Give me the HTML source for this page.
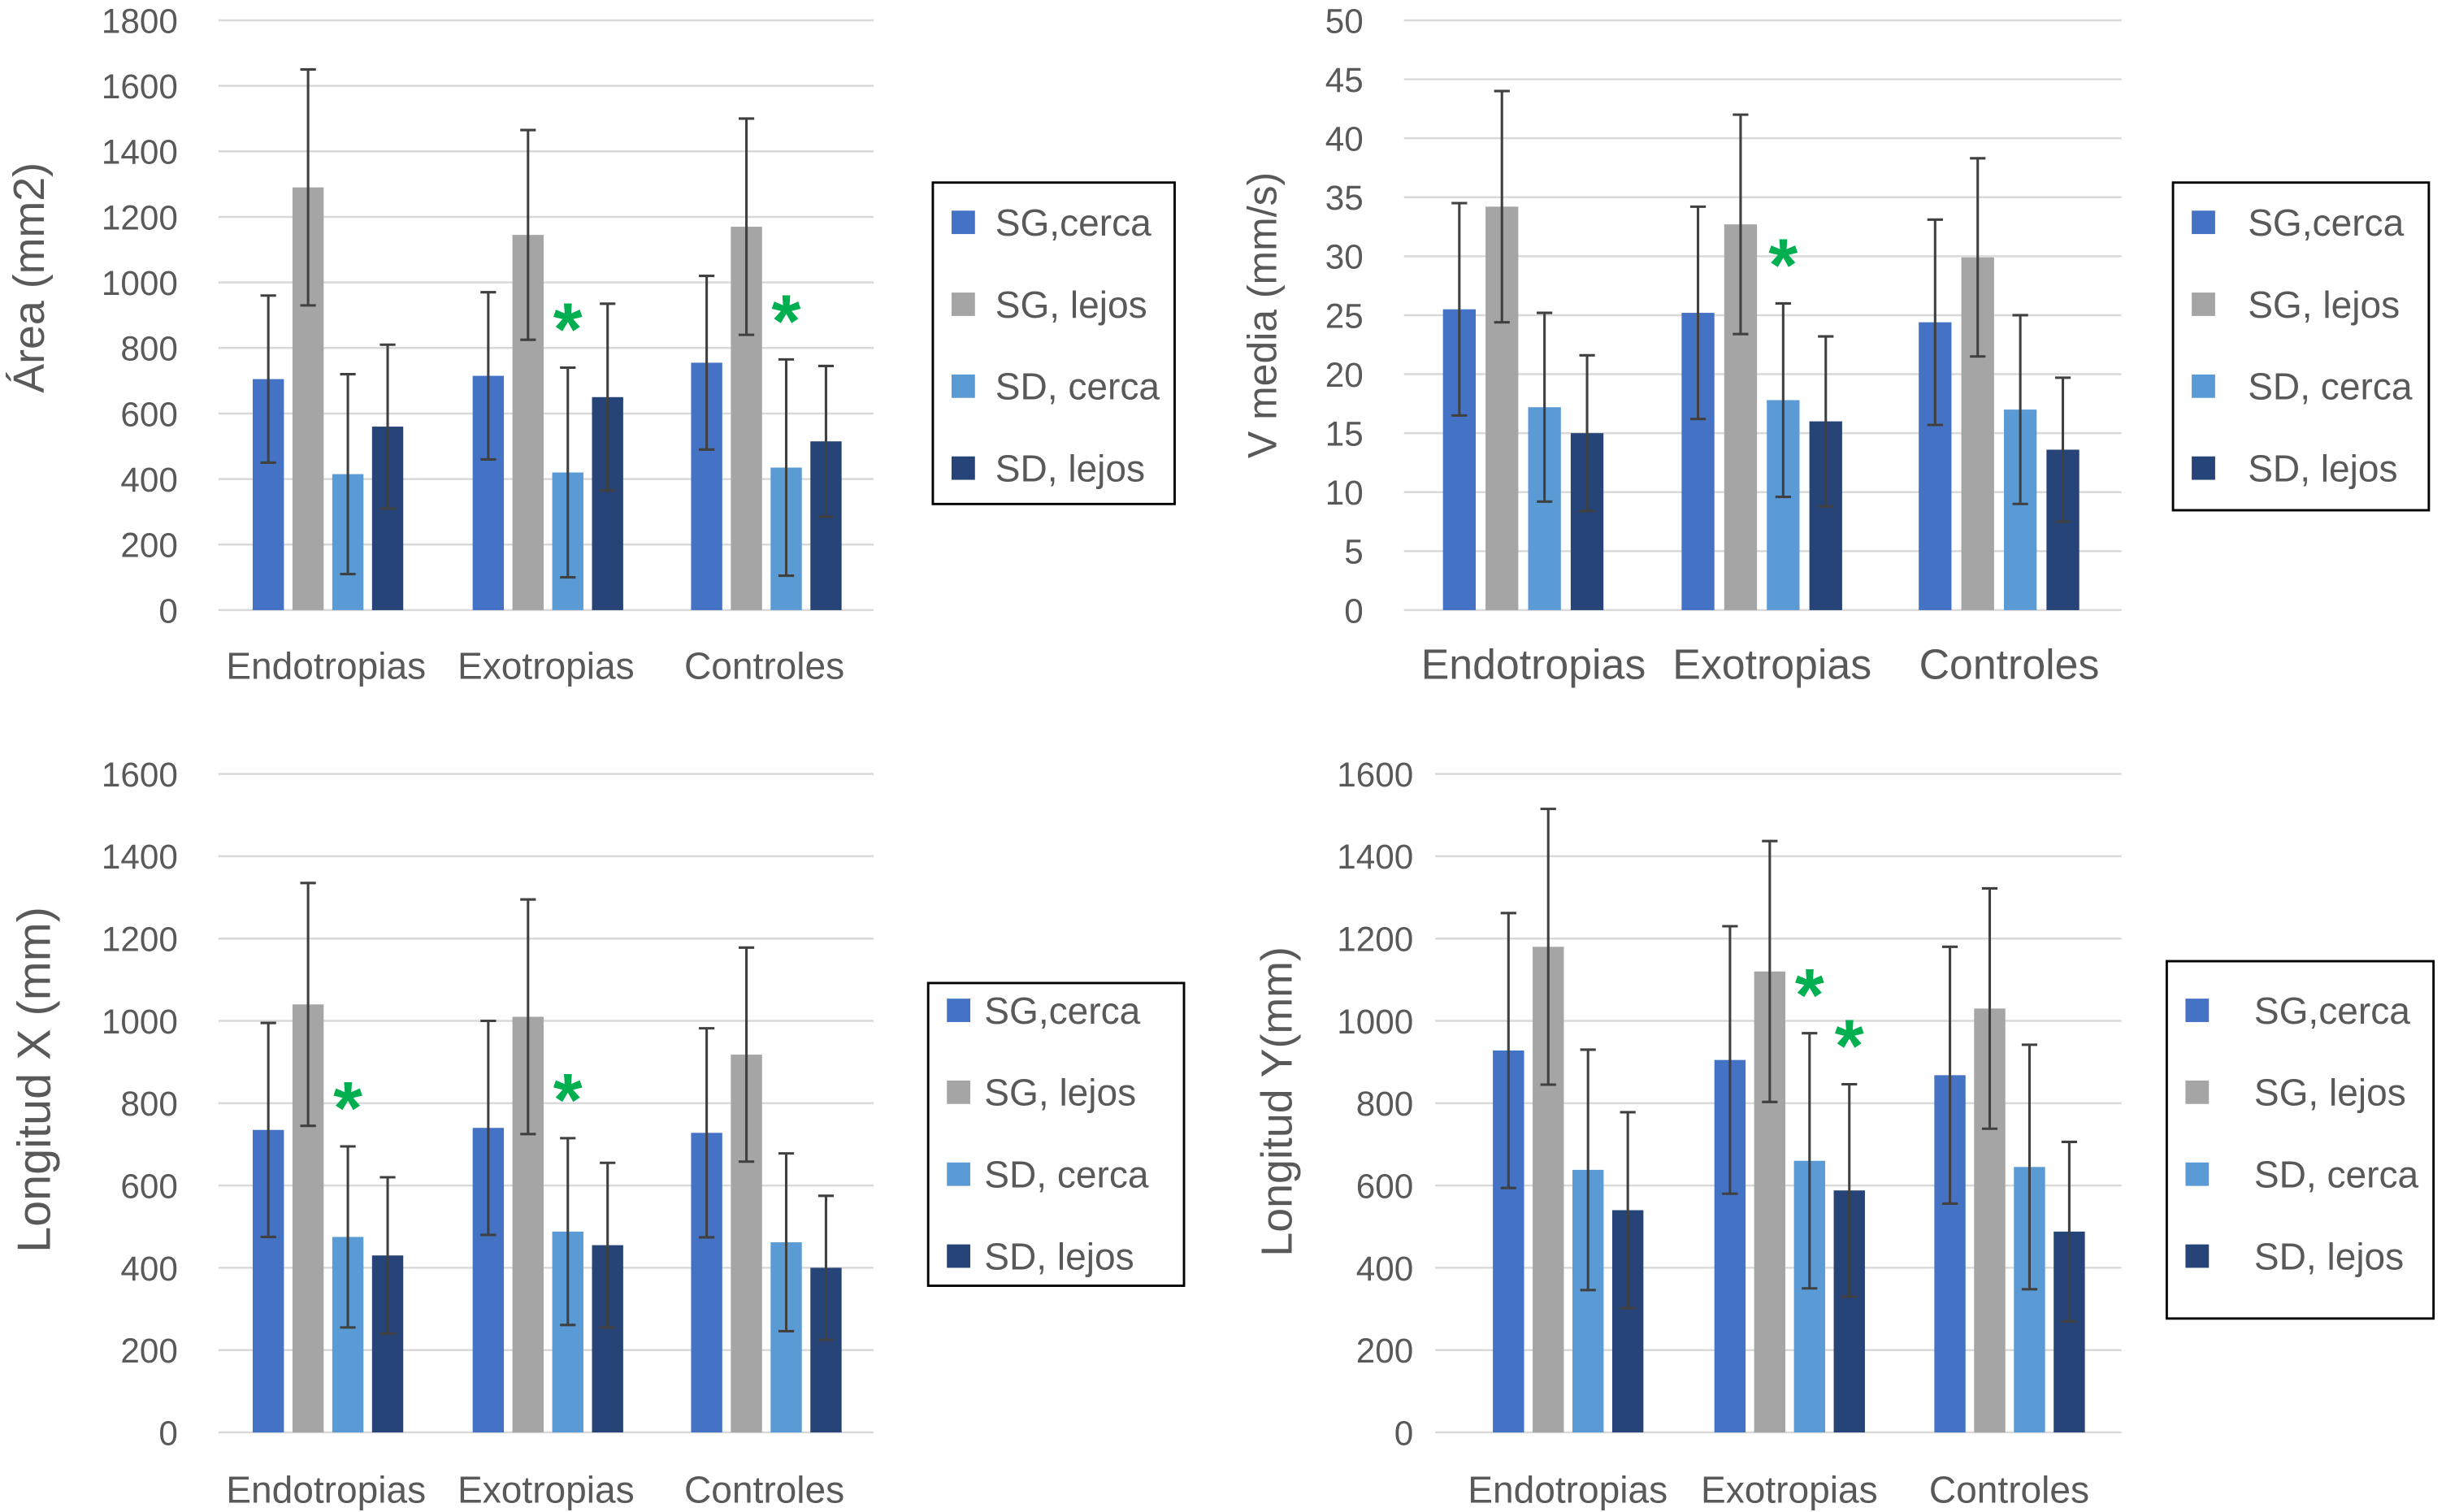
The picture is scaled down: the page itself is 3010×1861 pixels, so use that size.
<!DOCTYPE html>
<html><head><meta charset="utf-8">
<style>
html,body{margin:0;padding:0;background:#fff;}
svg{display:block;font-family:"Liberation Sans",sans-serif;}
</style></head>
<body>
<svg id="fig" width="3010" height="1861" viewBox="0 0 1568 969" preserveAspectRatio="none" xmlns="http://www.w3.org/2000/svg"></svg>
<script>
const categories = ["Endotropias","Exotropias","Controles"];
const seriesNames = ["SG,cerca","SG, lejos","SD, cerca","SD, lejos"];
const colors = ["#4472C4","#A5A5A5","#5B9BD5","#264478"];

const areaValues = [[705,715,755],[1290,1145,1170],[415,420,435],[560,650,515]];
const areaErrors = [[255,255,265],[360,320,330],[305,320,330],[250,285,230]];
const areaTicks = [0,200,400,600,800,1000,1200,1400,1600,1800];
const areaStars = [[1,2],[2,2]];

const vmValues = [[25.5,25.2,24.4],[34.2,32.7,29.9],[17.2,17.8,17.0],[15.0,16.0,13.6]];
const vmErrors = [[9,9,8.7],[9.8,9.3,8.4],[8,8.2,8],[6.6,7.2,6.1]];
const vmTicks = [0,5,10,15,20,25,30,35,40,45,50];
const vmStars = [[1,2]];

const lxValues = [[735,740,728],[1040,1010,918],[475,488,462],[430,455,400]];
const lxErrors = [[260,260,254],[295,285,260],[220,227,216],[190,200,175]];
const lxTicks = [0,200,400,600,800,1000,1200,1400,1600];
const lxStars = [[0,2],[1,2]];

const lyValues = [[928,905,868],[1180,1120,1030],[638,660,645],[540,588,488]];
const lyErrors = [[334,325,312],[335,317,292],[292,310,297],[238,258,218]];
const lyTicks = [0,200,400,600,800,1000,1200,1400,1600];
const lyStars = [[1,2],[1,3]];

const NS="http://www.w3.org/2000/svg";
const svg=document.getElementById('fig');
function el(tag,attrs,parent){const e=document.createElementNS(NS,tag);for(const k in attrs)e.setAttribute(k,attrs[k]);(parent||svg).appendChild(e);return e;}

function drawChart(cfg){
  const g=el('g',{});
  
  
  const max=cfg.ticks[cfg.ticks.length-1];
  const y=v=>cfg.y0-(v/max)*(cfg.y0-cfg.yTop);
  cfg.ticks.forEach(t=>{
    const l=el('line',{x1:cfg.gx0,x2:cfg.gx1,y1:y(t),y2:y(t),stroke:'#d9d9d9','stroke-width':1.3},g);
    
    
    const tx=el('text',{x:cfg.tickX,y:y(t)+8,'text-anchor':'end','font-size':22,fill:'#595959'},g);
    tx.textContent=t;
    
    
  });
  const barX=(gi,si)=>cfg.groupX[gi]+cfg.offset+si*cfg.step;
  cfg.values.forEach((ser,si)=>{
    ser.forEach((v,gi)=>{
      const x=barX(gi,si);
      const r=el('rect',{x:x,y:y(v),width:cfg.bw,height:cfg.y0-y(v),fill:colors[si]},g);
      
      
      const e=cfg.errors[si][gi], cx=x+cfg.bw/2;
      const p=el('path',{d:`M${cx},${y(v+e)}V${y(v-e)}M${cx-5},${y(v+e)}H${cx+5}M${cx-5},${y(v-e)}H${cx+5}`,stroke:'#404040','stroke-width':1.6,fill:'none'},g);
      
      
    });
  });
  cfg.stars.forEach(([gi,si])=>{
    const x=barX(gi,si)+cfg.bw/2;
    const top=cfg.values[si][gi]+cfg.errors[si][gi];
    const s=el('text',{x:x,y:y(top)-8,'text-anchor':'middle','font-size':48,'font-weight':'bold',fill:'#00B050'},g);
    s.textContent='*';
    
    
  });
  categories.forEach((c,gi)=>{
    const t=el('text',{x:cfg.groupX[gi],y:cfg.catY,'text-anchor':'middle','font-size':cfg.catSize,fill:'#595959'},g);
    t.textContent=c;
    
    
  });
  const at=el('text',{x:0,y:0,'text-anchor':'middle','font-size':cfg.titleSize,fill:'#595959',transform:`translate(${cfg.titleX},${cfg.titleY}) rotate(-90)`},g);
  at.textContent=cfg.title;
  
  
  const L=cfg.legend;
  const lg=el('g',{},g);
  
  
  el('rect',{x:L.x,y:L.y,width:L.w,height:L.h,fill:'#fff',stroke:'#000','stroke-width':1.5},lg);
  seriesNames.forEach((n,si)=>{
    const yy=L.y+L.pad+si*L.gap;
    const sw=el('rect',{x:L.x+12,y:yy-8,width:15,height:15,fill:colors[si]},lg);
    
    
    const t=el('text',{x:L.x+L.tx,y:yy+8,'font-size':L.fs,fill:'#595959'},lg);
    t.textContent=n;
    
    
  });
}

drawChart({name:'chart-area',values:areaValues,errors:areaErrors,ticks:areaTicks,stars:areaStars,
  y0:391,yTop:13,gx0:140,gx1:560,tickX:114,groupX:[209,350,490],offset:-47,step:25.5,bw:20,
  catY:435,catSize:24,title:'Área (mm2)',titleX:28,titleY:178,titleSize:28,
  legend:{x:598,y:117,w:155,h:206,pad:26,gap:52.5,tx:40,fs:24}});
drawChart({name:'chart-v-media',values:vmValues,errors:vmErrors,ticks:vmTicks,stars:vmStars,
  y0:391,yTop:13,gx0:900,gx1:1360,tickX:874,groupX:[983,1136,1288],offset:-58,step:27.3,bw:21,
  catY:435,catSize:27,title:'V media (mm/s)',titleX:818,titleY:202,titleSize:26,
  legend:{x:1393,y:117,w:164,h:210,pad:26,gap:52.5,tx:48,fs:24}});
drawChart({name:'chart-longitud-x',values:lxValues,errors:lxErrors,ticks:lxTicks,stars:lxStars,
  y0:918,yTop:496,gx0:140,gx1:560,tickX:114,groupX:[209,350,490],offset:-47,step:25.5,bw:20,
  catY:963,catSize:24,title:'Longitud  X (mm)',titleX:32,titleY:692,titleSize:30,
  legend:{x:595,y:630,w:164,h:194,pad:18,gap:52.5,tx:36,fs:24}});
drawChart({name:'chart-longitud-y',values:lyValues,errors:lyErrors,ticks:lyTicks,stars:lyStars,
  y0:918,yTop:496,gx0:920,gx1:1360,tickX:906,groupX:[1005,1147,1288],offset:-48,step:25.5,bw:20,
  catY:963,catSize:24,title:'Longitud Y(mm)',titleX:828,titleY:706,titleSize:28,
  legend:{x:1389,y:616,w:171,h:229,pad:32,gap:52.5,tx:56,fs:24}});
</script>
</body></html>
